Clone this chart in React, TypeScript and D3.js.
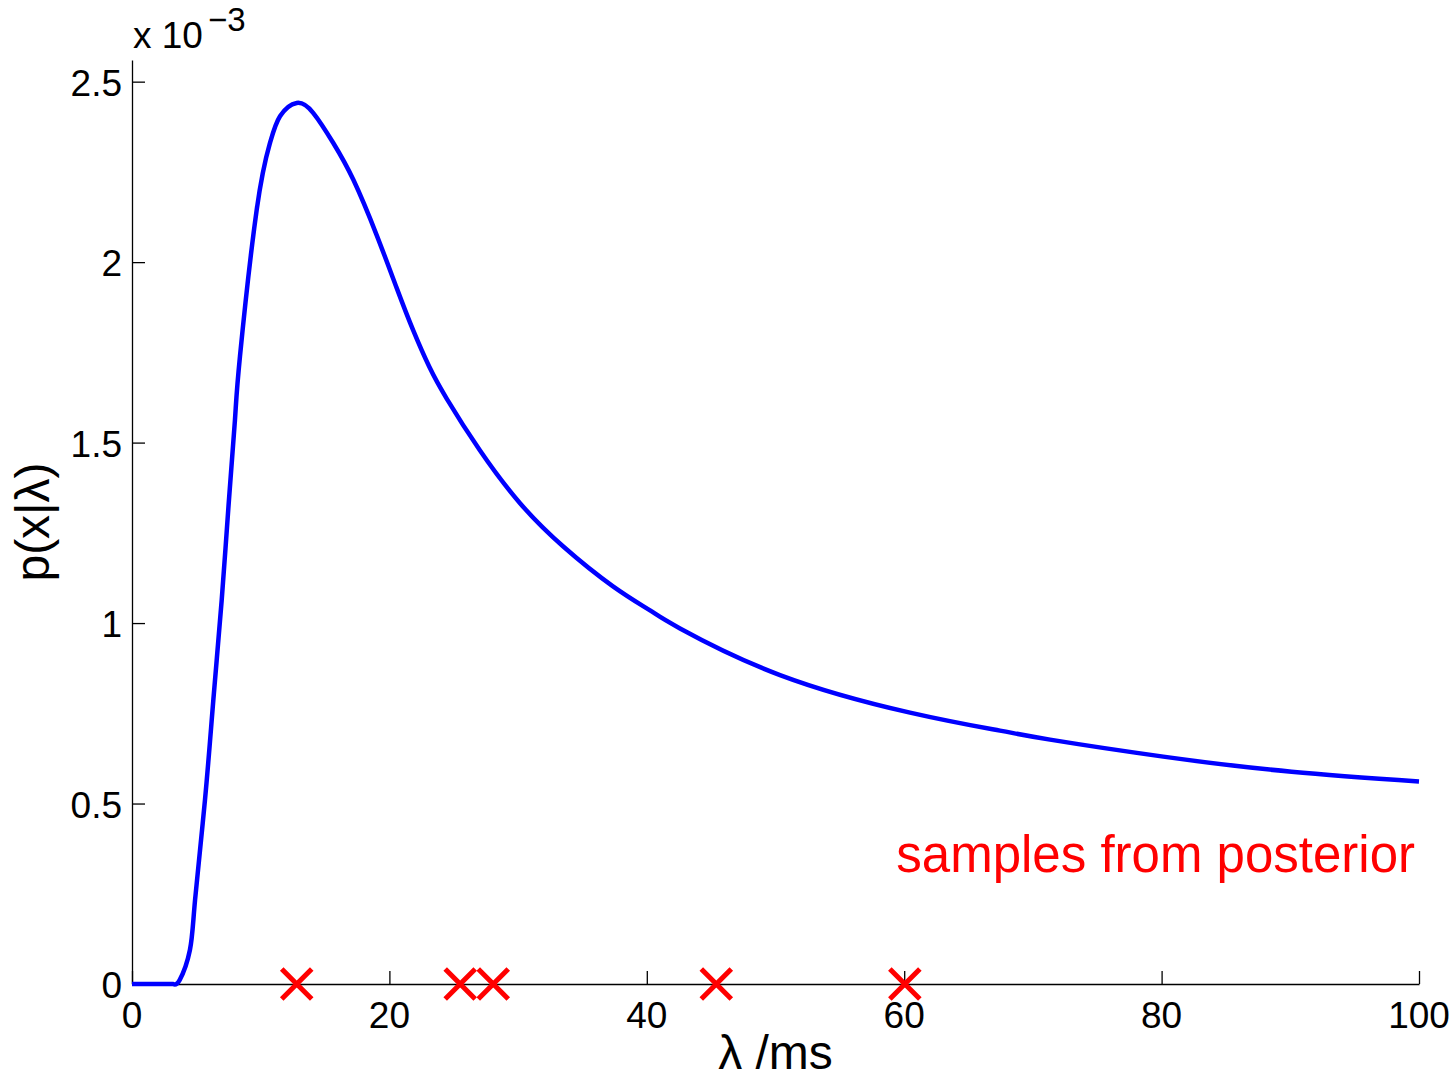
import React, { useEffect, useRef } from 'react'
import * as d3 from 'd3'

// lambda (ms) and p(x|lambda) in units of 1e-3
const lambdaValues = [
  0, 3.2, 3.7, 4.5, 4.9, 5.67, 6.32, 6.97, 7.5, 8.0, 8.39, 9.69, 10.72, 11.5, 12.8, 14.09, 15.64,
  17.2, 19.01, 20.57, 21.86, 23.1, 24.45, 27.04, 30.15, 33.51, 37.4, 40.25, 42.58, 50.35, 60.45,
  67.44, 71.33, 80.13, 90.1, 100,
]
const densityValues = [
  0, 0, 0.011, 0.094, 0.233, 0.51, 0.787, 1.064, 1.325, 1.563, 1.739, 2.145, 2.33, 2.404, 2.441,
  2.413, 2.33, 2.228, 2.075, 1.928, 1.81, 1.71, 1.622, 1.478, 1.332, 1.212, 1.101, 1.035, 0.985,
  0.856, 0.752, 0.702, 0.677, 0.63, 0.588, 0.561,
]
// posterior samples shown as red crosses on the axis
const sampleValues = [12.8, 25.5, 28.07, 45.4, 60.05]

const xTicks = [0, 20, 40, 60, 80, 100]
const yTicks = [0, 0.5, 1, 1.5, 2, 2.5]

const App = () => {
  const svgRef = useRef(null)

  const width = 1451
  const height = 1078
  const font = '"Liberation Sans", Arial, Helvetica, sans-serif'

  useEffect(() => {
    const svg = d3.select(svgRef.current)
    svg.selectAll('*').remove()

    const xScale = d3.scaleLinear().domain([0, 100]).range([132, 1419])
    const yScale = d3.scaleLinear().domain([0, 2.56]).range([984, 60])

    // X axis, ticks pointing inward
    const xAxis = svg
      .append('g')
      .attr('transform', `translate(0, ${yScale(0)})`)
      .call(d3.axisTop(xScale).tickValues(xTicks).tickSize(13).tickSizeOuter(0).tickFormat(() => ''))
    xAxis.select('.domain').attr('stroke', 'black').attr('stroke-width', 1.3)
    xAxis.selectAll('line').attr('stroke', 'black').attr('stroke-width', 1.3)

    svg
      .append('g')
      .selectAll('text')
      .data(xTicks)
      .join('text')
      .attr('x', (d) => xScale(d))
      .attr('y', yScale(0) + 44)
      .attr('text-anchor', 'middle')
      .attr('font-family', font)
      .attr('font-size', 37)
      .text((d) => d)

    // Y axis
    const yAxis = svg
      .append('g')
      .attr('transform', `translate(${xScale(0)}, 0)`)
      .call(d3.axisRight(yScale).tickValues(yTicks).tickSize(13).tickSizeOuter(0).tickFormat(() => ''))
    yAxis.select('.domain').attr('stroke', 'black').attr('stroke-width', 1.3)
    yAxis.selectAll('line').attr('stroke', 'black').attr('stroke-width', 1.3)

    svg
      .append('g')
      .selectAll('text')
      .data(yTicks)
      .join('text')
      .attr('x', xScale(0) - 10)
      .attr('y', (d) => yScale(d) + 14)
      .attr('text-anchor', 'end')
      .attr('font-family', font)
      .attr('font-size', 37)
      .text((d) => d)

    // exponent label
    const expo = svg
      .append('text')
      .attr('x', 133)
      .attr('y', 48)
      .attr('font-family', font)
      .attr('font-size', 37)
    expo.append('tspan').text('x 10')
    expo.append('tspan').attr('x', 208).attr('y', 31).attr('font-size', 33).text('\u22123')

    // curve: flat foot drawn straight, the rest as a smooth spline
    const lineData = lambdaValues.map((l, i) => ({ l, p: densityValues[i] }))
    const flat = lineData.filter((d) => d.l <= 3.2)
    const rest = lineData.filter((d) => d.l >= 3.2)
    const straight = d3
      .line()
      .x((d) => xScale(d.l))
      .y((d) => yScale(d.p))
    const smooth = d3
      .line()
      .x((d) => xScale(d.l))
      .y((d) => yScale(d.p))
      .curve(d3.curveNatural)
    svg
      .append('path')
      .attr('d', straight(flat) + smooth(rest).replace(/^M/, 'L'))
      .attr('fill', 'none')
      .attr('stroke', '#0000ff')
      .attr('stroke-width', 4.5)
      .attr('stroke-linejoin', 'round')

    // sample crosses
    const cross = d3.symbol().type(d3.symbolX).size(589)
    svg
      .append('g')
      .selectAll('path')
      .data(sampleValues)
      .join('path')
      .attr('transform', (d) => `translate(${xScale(d)}, ${yScale(0)})`)
      .attr('d', cross)
      .attr('fill', 'none')
      .attr('stroke', '#ff0000')
      .attr('stroke-width', 5)

    svg
      .append('text')
      .attr('x', 1415)
      .attr('y', 872)
      .attr('text-anchor', 'end')
      .attr('font-family', font)
      .attr('font-size', 51)
      .attr('fill', '#ff0000')
      .text('samples from posterior')

    // axis labels
    svg
      .append('text')
      .attr('x', (xScale(0) + xScale(100)) / 2)
      .attr('y', 1069)
      .attr('text-anchor', 'middle')
      .attr('font-family', font)
      .attr('font-size', 48)
      .text('\u03bb /ms')

    svg
      .append('text')
      .attr('transform', `translate(49, ${(yScale(0) + yScale(2.56)) / 2}) rotate(-90)`)
      .attr('text-anchor', 'middle')
      .attr('font-family', font)
      .attr('font-size', 48)
      .text('p(x|\u03bb)')
  }, [])

  return (
    <svg
      ref={svgRef}
      width={width}
      height={height}
      style={{ position: 'absolute', left: 0, top: 0, background: 'white' }}
    />
  )
}

export default App
